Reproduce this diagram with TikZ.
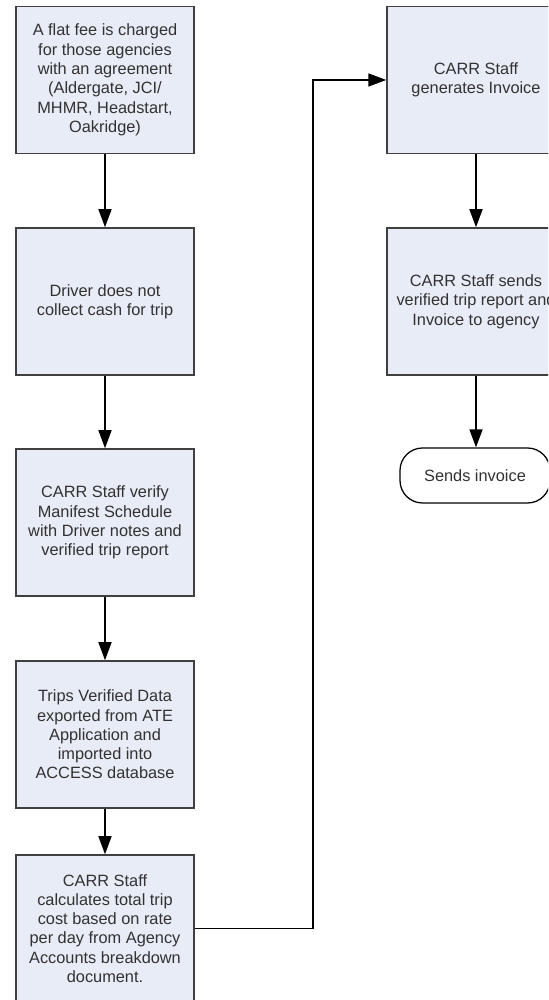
\documentclass[tikz,border=0pt]{standalone}
\usepackage{fontspec}
\setmainfont{Liberation Sans}
\usetikzlibrary{arrows.meta}

\definecolor{boxfill}{RGB}{232,236,246}
\definecolor{boxline}{RGB}{64,64,64}
\definecolor{boxtext}{RGB}{50,50,50}

\tikzset{
  stepbox/.style={draw=boxline, line width=0.03cm, fill=boxfill, shape=rectangle,
    minimum width=3.56cm, minimum height=2.94cm, align=center, text=boxtext,
    font=\fontsize{9.3pt}{11pt}\selectfont},
  endbox/.style={draw=black, line width=0.025cm, fill=white, shape=rectangle,
    rounded corners=0.45cm, minimum width=3cm, minimum height=1.1cm, text=boxtext,
    font=\fontsize{9.3pt}{11pt}\selectfont},
  flow/.style={draw=black, line width=0.03cm, -{Triangle[length=3.6mm,width=2.6mm]}}
}

\begin{document}
\begin{tikzpicture}

%% - Fix page size
%% - --------------------------------------

\useasboundingbox (0,0) rectangle (10.96,20);
\clip (0,0) rectangle (10.96,20);

%% - Draw left column
%% - --------------------------------------

\node[stepbox] (flatfee) at (2.1,18.4) {A flat fee is charged\\for those agencies\\with an agreement\\(Aldergate, JCI/\\MHMR, Headstart,\\Oakridge)};
\node[stepbox] (nocash) at (2.1,13.97) {Driver does not\\collect cash for trip};
\node[stepbox] (verify) at (2.1,9.55) {CARR Staff verify\\Manifest Schedule\\with Driver notes and\\verified trip report};
\node[stepbox] (export) at (2.1,5.31) {Trips Verified Data\\exported from ATE\\Application and\\imported into\\ACCESS database};
\node[stepbox] (calc) at (2.1,1.43) {CARR Staff\\calculates total trip\\cost based on rate\\per day from Agency\\Accounts breakdown\\document.};

%% - Draw right column
%% - --------------------------------------

\node[stepbox] (invoice) at (9.52,18.4) {CARR Staff\\generates Invoice};
\node[stepbox] (sendrep) at (9.52,13.97) {CARR Staff sends\\verified trip report and\\Invoice to agency};
\node[endbox] (done) at (9.5,10.49) {Sends invoice};

%% - Draw arrows
%% - --------------------------------------

\draw[flow] (flatfee) -- (nocash);
\draw[flow] (nocash) -- (verify);
\draw[flow] (verify) -- (export);
\draw[flow] (export) -- (calc);

%% - back up to the invoice
\coordinate (turn) at (6.26,0);
\draw[flow] (calc.east) -| (turn |- invoice.west) -- (invoice.west);

\draw[flow] (invoice) -- (sendrep);
\draw[flow] (sendrep.south) -- (sendrep.south |- done.north);

\end{tikzpicture}
\end{document}
